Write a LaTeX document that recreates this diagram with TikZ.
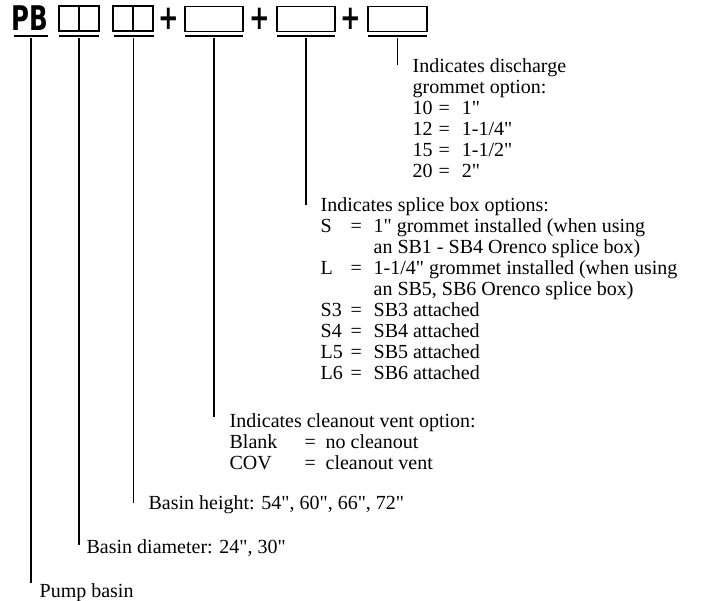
\documentclass[tikz,border=0pt]{standalone}
\usepackage{fontspec}
\setmainfont{Liberation Serif}[Ligatures=TeXOff]
\newfontfamily\hdfont{DejaVu Sans Condensed}
\usepackage{array}

\tikzset{
    box/.style={draw, line width=1.4pt, minimum height=25pt, inner sep=0pt},
    uline/.style={fill=black, minimum height=2pt, inner sep=0pt},
    head/.style={font=\hdfont\bfseries\fontsize{34}{34}\selectfont, inner sep=0pt},
    lbl/.style={font=\fontsize{20}{21}\selectfont, inner sep=0pt, anchor=base west}
}

\begin{document}
\begin{tikzpicture}[x=1pt,y=-1pt,line width=1.3pt]
    \useasboundingbox (0,0) rectangle (712,601);

    % code letters and boxes
    \node[head] (pb) at (30,18) {\scalebox{0.8}[1]{PB}};
    \node[box, minimum width=20pt] (d1) at (69,18.5) {};
    \node[box, minimum width=20pt] (d2) at (89,18.5) {};
    \node[box, minimum width=20pt] (h1) at (123,18.5) {};
    \node[box, minimum width=20pt] (h2) at (143,18.5) {};
    \node[head] (p1) at (169,19) {\scalebox{0.8}[1]{+}};
    \node[box, minimum width=58pt] (cv) at (214,19) {};
    \node[head] (p2) at (260,19) {\scalebox{0.8}[1]{+}};
    \node[box, minimum width=58pt] (sb) at (306,19) {};
    \node[head] (p3) at (351,19) {\scalebox{0.8}[1]{+}};
    \node[box, minimum width=59pt] (gr) at (397.5,19) {};

    % underlines
    \node[uline, minimum width=34pt] (upb) at (31,36) {};
    \node[uline, minimum width=40pt] (ud) at (79,36) {};
    \node[uline, minimum width=40pt] (uh) at (133.5,36) {};
    \node[uline, minimum width=58pt] (ucv) at (214,36) {};
    \node[uline, minimum width=58pt] (usb) at (306,36) {};
    \node[uline, minimum width=59pt] (ugr) at (397.5,36) {};

    % line ends
    \coordinate (epb) at (31,583);
    \coordinate (ed) at (79,545);
    \coordinate (eh) at (133.5,503);
    \coordinate (ecv) at (214,417);
    \coordinate (esb) at (306,205);
    \coordinate (egr) at (397.5,65);

    \draw (upb.south) -- (epb);
    \draw (ud.south) -- (ed);
    \draw (uh.south) -- (eh);
    \draw (ucv.south) -- (ecv);
    \draw (usb.south) -- (esb);
    \draw (ugr.south) -- (egr);

    % descriptions
    \node[lbl] (pump) at (39,597) {Pump basin};
    \node[lbl] (dia) at (86,553) {Basin diameter: 24", 30"};
    \node[lbl] (ht) at (148,509) {Basin height: 54", 60", 66", 72"};
    \node[lbl] (cln) at (229,427) {\begin{tabular}[t]{@{}p{75pt}@{}p{21pt}@{}l}
        \multicolumn{3}{@{}l}{Indicates cleanout vent option:}\\
        Blank & = & no cleanout\\
        COV & = & cleanout vent
    \end{tabular}};
    \node[lbl] (spl) at (320,212) {\begin{tabular}[t]{@{}p{30pt}@{}p{23pt}@{}l}
        \multicolumn{3}{@{}l}{Indicates splice box options:}\\
        S & = & 1" grommet installed (when using\\
          &   & an SB1 - SB4 Orenco splice box)\\
        L & = & 1-1/4" grommet installed (when using\\
          &   & an SB5, SB6 Orenco splice box)\\
        S3 & = & SB3 attached\\
        S4 & = & SB4 attached\\
        L5 & = & SB5 attached\\
        L6 & = & SB6 attached
    \end{tabular}};
    \node[lbl] (dis) at (412,73) {\begin{tabular}[t]{@{}l@{\hspace{6pt}}l@{\hspace{12pt}}l}
        \multicolumn{3}{@{}l}{Indicates discharge}\\
        \multicolumn{3}{@{}l}{grommet option:}\\
        10 & = & 1"\\
        12 & = & 1-1/4"\\
        15 & = & 1-1/2"\\
        20 & = & 2"
    \end{tabular}};

\end{tikzpicture}
\end{document}
